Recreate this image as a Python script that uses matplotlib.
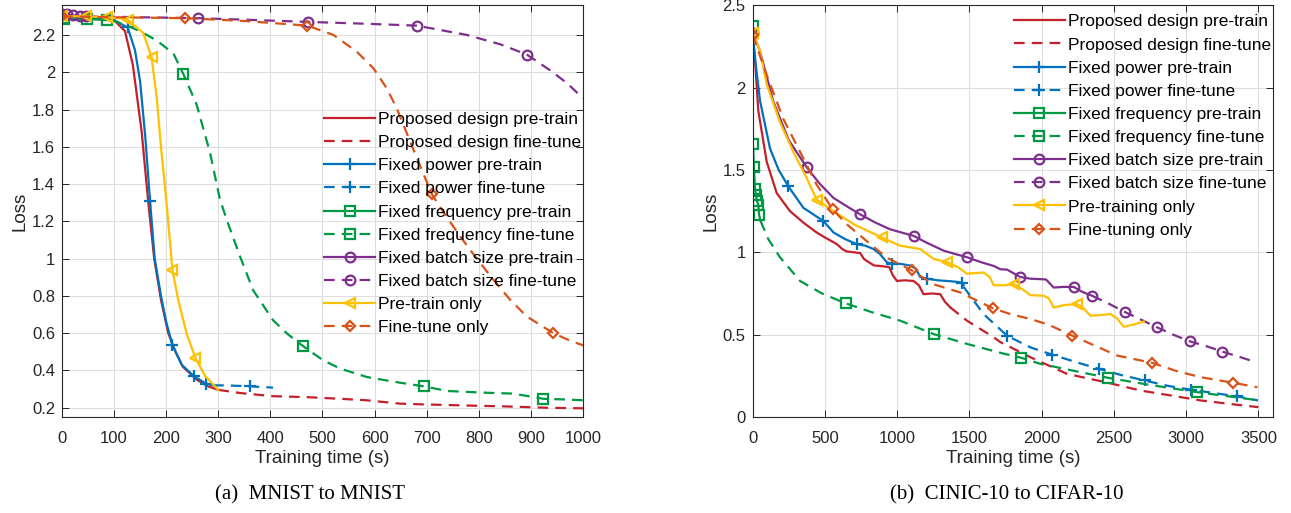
import matplotlib.pyplot as plt
from matplotlib.ticker import FuncFormatter

RED = "#C4202C"
BLUE = "#0072BD"
GREEN = "#009944"
PURPLE = "#7E2F8E"
YELLOW = "#FFC000"
ORANGE = "#D95319"

# ---------------- (a) MNIST to MNIST ----------------
mn_prop_pre_t = [0, 50, 100, 121, 136, 153, 165, 177, 190, 204, 218, 232, 259, 280, 300]
mn_prop_pre_l = [2.30, 2.295, 2.28, 2.22, 2.04, 1.68, 1.32, 1.00, 0.78, 0.60, 0.50, 0.42, 0.35, 0.315, 0.296]
mn_prop_ft_t = [300, 342, 405, 470, 534, 585, 649, 693, 777, 853, 930, 1000]
mn_prop_ft_l = [0.296, 0.279, 0.262, 0.257, 0.248, 0.24, 0.222, 0.218, 0.212, 0.207, 0.20, 0.197]

mn_pow_pre_t = [0, 50, 100, 126, 140, 150, 160, 169, 178, 190, 200, 212, 230, 253, 276, 290]
mn_pow_pre_l = [2.30, 2.295, 2.28, 2.24, 2.12, 1.95, 1.65, 1.31, 1.00, 0.80, 0.66, 0.536, 0.43, 0.37, 0.33, 0.32]
mn_pow_pre_mk = [0, 3, 7, 11, 13, 14]
mn_pow_ft_t = [290, 316, 360, 405]
mn_pow_ft_l = [0.32, 0.32, 0.315, 0.308]
mn_pow_ft_mk = [2]

mn_freq_pre_t = [0, 4, 48, 86, 95]
mn_freq_pre_l = [2.29, 2.285, 2.285, 2.28, 2.28]
mn_freq_pre_mk = [0, 1, 2, 3]
mn_freq_ft_t = [95, 125, 150, 182, 214, 233, 258, 284, 303, 316, 342, 367, 405, 431, 463, 501,
                534, 585, 636, 694, 740, 777, 820, 866, 924, 960, 1000]
mn_freq_ft_l = [2.28, 2.25, 2.22, 2.17, 2.10, 1.99, 1.83, 1.57, 1.32, 1.21, 1.01, 0.83, 0.67, 0.60, 0.53, 0.455,
                0.41, 0.365, 0.34, 0.315, 0.29, 0.285, 0.28, 0.276, 0.248, 0.245, 0.24]
mn_freq_ft_mk = [5, 14, 19, 24]

mn_bat_pre_t = [0, 9, 21, 35, 47]
mn_bat_pre_l = [2.31, 2.31, 2.305, 2.30, 2.30]
mn_bat_pre_mk = [0, 1, 2, 3, 4]
mn_bat_ft_t = [47, 150, 262, 370, 473, 585, 681, 777, 841, 892, 937, 970, 1000]
mn_bat_ft_l = [2.30, 2.295, 2.29, 2.28, 2.27, 2.26, 2.25, 2.20, 2.15, 2.095, 2.01, 1.94, 1.86]
mn_bat_ft_mk = [2, 4, 6, 9]

mn_pre_only_t = [0, 47, 86, 110, 127, 156, 172, 182, 190, 200, 212, 223, 239, 256, 275, 300]
mn_pre_only_l = [2.30, 2.30, 2.295, 2.29, 2.28, 2.21, 2.08, 1.86, 1.60, 1.32, 0.94, 0.78, 0.60, 0.467, 0.37, 0.295]
mn_pre_only_mk = [0, 1, 2, 4, 6, 10, 13]

mn_ft_only_t = [0, 100, 236, 350, 471, 521, 566, 598, 623, 642, 668, 690, 710, 732, 764, 796,
                830, 860, 892, 943, 975, 1000]
mn_ft_only_l = [2.30, 2.295, 2.29, 2.275, 2.25, 2.20, 2.11, 2.02, 1.915, 1.81, 1.63, 1.48, 1.345, 1.25, 1.12, 1.00,
                0.88, 0.78, 0.69, 0.60, 0.56, 0.535]
mn_ft_only_mk = [0, 2, 4, 12, 19]

# ---------------- (b) CINIC-10 to CIFAR-10 ----------------
cf_prop_pre_t = [0, 16, 39, 97, 166, 258, 351, 443, 500, 582, 620, 650, 700, 744, 770, 790, 840, 882,
                 945, 970, 998, 1050, 1113, 1150, 1182, 1240, 1298, 1330, 1368]
cf_prop_pre_l = [2.33, 2.17, 1.86, 1.55, 1.36, 1.25, 1.18, 1.12, 1.09, 1.05, 1.02, 1.005, 1.00, 0.995, 0.96,
                 0.947, 0.92, 0.917, 0.91, 0.86, 0.826, 0.83, 0.826, 0.80, 0.746, 0.75, 0.746, 0.70, 0.665]
cf_prop_ft_t = [1368, 1483, 1668, 1714, 1922, 2176, 2450, 2684, 2900, 3100, 3300, 3500]
cf_prop_ft_l = [0.665, 0.585, 0.484, 0.455, 0.363, 0.262, 0.21, 0.161, 0.13, 0.101, 0.08, 0.06]

cf_pow_pre_t = [0, 20, 51, 120, 180, 247, 351, 420, 489, 560, 640, 720, 780, 836, 880, 928, 963, 1020,
                1090, 1130, 1159, 1206, 1280, 1360, 1420, 1448, 1460]
cf_pow_pre_l = [2.33, 2.15, 1.92, 1.63, 1.50, 1.40, 1.27, 1.23, 1.19, 1.12, 1.08, 1.05, 1.04, 1.02, 0.99,
                0.94, 0.93, 0.93, 0.92, 0.90, 0.85, 0.84, 0.83, 0.825, 0.82, 0.815, 0.80]
cf_pow_pre_mk = [0, 5, 8, 11, 16, 21, 25]
cf_pow_ft_t = [1460, 1598, 1760, 1922, 2072, 2250, 2395, 2550, 2712, 2870, 3031, 3200, 3354, 3496]
cf_pow_ft_l = [0.79, 0.625, 0.494, 0.423, 0.379, 0.33, 0.293, 0.255, 0.222, 0.19, 0.166, 0.145, 0.125, 0.101]
cf_pow_ft_mk = [2, 4, 6, 8, 10, 12]

cf_freq_pre_t = [0, 2, 9, 16, 23, 30, 39, 44, 55]
cf_freq_pre_l = [2.375, 1.657, 1.517, 1.386, 1.345, 1.31, 1.29, 1.229, 1.19]
cf_freq_pre_mk = [0, 1, 2, 3, 4, 5, 6, 7]
cf_freq_ft_t = [55, 108, 189, 328, 480, 644, 830, 1021, 1252, 1483, 1714, 1857, 1991, 2200, 2460, 2750,
                3077, 3300, 3504]
cf_freq_ft_l = [1.19, 1.08, 0.97, 0.826, 0.75, 0.69, 0.635, 0.585, 0.504, 0.444, 0.39, 0.36, 0.323, 0.285,
                0.238, 0.195, 0.151, 0.125, 0.101]
cf_freq_ft_mk = [5, 8, 11, 14, 16]

cf_bat_pre_t = [0, 51, 143, 250, 374, 460, 559, 650, 744, 850, 950, 1030, 1113, 1200, 1321, 1400, 1483,
                1580, 1668, 1714, 1760, 1852, 1920, 1991, 2030, 2083, 2150, 2222, 2280, 2349]
cf_bat_pre_l = [2.33, 2.22, 1.915, 1.68, 1.516, 1.42, 1.33, 1.28, 1.23, 1.18, 1.14, 1.12, 1.10, 1.06, 1.01,
                0.99, 0.97, 0.94, 0.917, 0.897, 0.895, 0.85, 0.84, 0.837, 0.835, 0.786, 0.79, 0.79, 0.76, 0.736]
cf_bat_pre_mk = [0, 4, 8, 12, 16, 21, 27]
cf_bat_ft_t = [2349, 2460, 2573, 2690, 2800, 2910, 3024, 3140, 3250, 3370, 3481]
cf_bat_ft_l = [0.736, 0.69, 0.639, 0.59, 0.544, 0.50, 0.46, 0.43, 0.397, 0.365, 0.333]
cf_bat_ft_mk = [0, 2, 4, 6, 8]

cf_pre_only_t = [0, 51, 97, 189, 281, 374, 443, 559, 700, 894, 1021, 1159, 1252, 1345, 1420, 1483, 1560,
                 1598, 1640, 1668, 1750, 1806, 1860, 1922, 2014, 2050, 2083, 2160, 2245, 2290, 2337, 2420,
                 2476, 2520, 2568, 2650, 2707]
cf_pre_only_l = [2.33, 2.22, 2.02, 1.79, 1.61, 1.45, 1.32, 1.25, 1.17, 1.09, 1.04, 1.02, 0.96, 0.94, 0.91,
                 0.87, 0.875, 0.877, 0.85, 0.80, 0.80, 0.81, 0.78, 0.74, 0.736, 0.72, 0.665, 0.68, 0.686,
                 0.66, 0.615, 0.62, 0.625, 0.60, 0.548, 0.565, 0.58]
cf_pre_only_mk = [0, 6, 9, 13, 21, 28]

cf_ft_only_t = [0, 97, 212, 328, 443, 554, 651, 800, 928, 1101, 1252, 1437, 1660, 1783, 1922, 2050, 2211,
                2350, 2523, 2765, 2930, 3100, 3326, 3493]
cf_ft_only_l = [2.32, 2.076, 1.81, 1.61, 1.41, 1.26, 1.17, 1.06, 0.967, 0.89, 0.806, 0.756, 0.661, 0.625,
                0.595, 0.56, 0.494, 0.44, 0.373, 0.329, 0.28, 0.242, 0.208, 0.181]
cf_ft_only_mk = [0, 5, 9, 12, 16, 19, 22]

mn_labels = ["Proposed design pre-train", "Proposed design fine-tune",
             "Fixed power pre-train", "Fixed power fine-tune",
             "Fixed frequency pre-train", "Fixed frequency fine-tune",
             "Fixed batch size pre-train", "Fixed batch size fine-tune",
             "Pre-train only", "Fine-tune only"]
cf_labels = mn_labels[:8] + ["Pre-training only", "Fine-tuning only"]

plt.rcParams["font.family"] = ["Liberation Sans", "DejaVu Sans"]
DASH = (0, (4.8, 3.2))
TXT = "#262626"


def curve(ax, t, l, color, dashed=False, marker=None, marks=None, label=None):
    ms = 8 if marker == "+" else 7
    if marker == "D":
        ms = 5.5
    ax.plot(t, l, color=color, lw=1.6, linestyle=DASH if dashed else "-",
            marker=marker, markevery=marks, markersize=ms, markerfacecolor="none",
            markeredgewidth=1.6, label=label)


def style(ax, xticks, yticks, xlim, ylim):
    ax.set_xlim(xlim)
    ax.set_ylim(ylim)
    ax.set_xticks(xticks)
    ax.set_yticks(yticks)
    ax.yaxis.set_major_formatter(FuncFormatter(lambda v, p: "%g" % round(v, 2)))
    ax.grid(True, color="#dedede", linewidth=0.8)
    ax.set_axisbelow(True)
    ax.tick_params(direction="in", top=True, right=True, length=5, width=0.7,
                   colors=TXT, labelsize=12)
    ax.tick_params(axis="x", pad=10)
    ax.tick_params(axis="y", pad=5)
    for s in ax.spines.values():
        s.set_color(TXT)
        s.set_linewidth(0.8)
    ax.set_xlabel("Training time (s)", fontsize=13.5, color=TXT, labelpad=3)
    ax.set_ylabel("Loss", fontsize=13.5, color=TXT, labelpad=2)


fig = plt.figure(figsize=(12.91, 5.13), dpi=100)
ax1 = fig.add_axes([0.048, 0.187, 0.4036, 0.803])
ax2 = fig.add_axes([0.583, 0.187, 0.403, 0.803])

# panel (a)
curve(ax1, mn_prop_pre_t, mn_prop_pre_l, RED, label=mn_labels[0])
curve(ax1, mn_prop_ft_t, mn_prop_ft_l, RED, dashed=True, label=mn_labels[1])
curve(ax1, mn_pow_pre_t, mn_pow_pre_l, BLUE, marker="+", marks=mn_pow_pre_mk, label=mn_labels[2])
curve(ax1, mn_pow_ft_t, mn_pow_ft_l, BLUE, dashed=True, marker="+", marks=mn_pow_ft_mk, label=mn_labels[3])
curve(ax1, mn_freq_pre_t, mn_freq_pre_l, GREEN, marker="s", marks=mn_freq_pre_mk, label=mn_labels[4])
curve(ax1, mn_freq_ft_t, mn_freq_ft_l, GREEN, dashed=True, marker="s", marks=mn_freq_ft_mk, label=mn_labels[5])
curve(ax1, mn_bat_pre_t, mn_bat_pre_l, PURPLE, marker="o", marks=mn_bat_pre_mk, label=mn_labels[6])
curve(ax1, mn_bat_ft_t, mn_bat_ft_l, PURPLE, dashed=True, marker="o", marks=mn_bat_ft_mk, label=mn_labels[7])
curve(ax1, mn_pre_only_t, mn_pre_only_l, YELLOW, marker="<", marks=mn_pre_only_mk, label=mn_labels[8])
curve(ax1, mn_ft_only_t, mn_ft_only_l, ORANGE, dashed=True, marker="D", marks=mn_ft_only_mk, label=mn_labels[9])
style(ax1, range(0, 1001, 100), [0.2 * i for i in range(1, 12)], (0, 1000), (0.15, 2.36))

# panel (b)
curve(ax2, cf_prop_pre_t, cf_prop_pre_l, RED, label=cf_labels[0])
curve(ax2, cf_prop_ft_t, cf_prop_ft_l, RED, dashed=True, label=cf_labels[1])
curve(ax2, cf_pow_pre_t, cf_pow_pre_l, BLUE, marker="+", marks=cf_pow_pre_mk, label=cf_labels[2])
curve(ax2, cf_pow_ft_t, cf_pow_ft_l, BLUE, dashed=True, marker="+", marks=cf_pow_ft_mk, label=cf_labels[3])
curve(ax2, cf_freq_pre_t, cf_freq_pre_l, GREEN, marker="s", marks=cf_freq_pre_mk, label=cf_labels[4])
curve(ax2, cf_freq_ft_t, cf_freq_ft_l, GREEN, dashed=True, marker="s", marks=cf_freq_ft_mk, label=cf_labels[5])
curve(ax2, cf_bat_pre_t, cf_bat_pre_l, PURPLE, marker="o", marks=cf_bat_pre_mk, label=cf_labels[6])
curve(ax2, cf_bat_ft_t, cf_bat_ft_l, PURPLE, dashed=True, marker="o", marks=cf_bat_ft_mk, label=cf_labels[7])
curve(ax2, cf_pre_only_t, cf_pre_only_l, YELLOW, marker="<", marks=cf_pre_only_mk, label=cf_labels[8])
curve(ax2, cf_ft_only_t, cf_ft_only_l, ORANGE, dashed=True, marker="D", marks=cf_ft_only_mk, label=cf_labels[9])
style(ax2, range(0, 3501, 500), [0, 0.5, 1, 1.5, 2, 2.5], (0, 3600), (0, 2.5))

for ax, anchor in ((ax1, (1.0, 0.745)), (ax2, (1.0, 0.982))):
    leg = ax.legend(loc="upper right", bbox_to_anchor=anchor, frameon=False, fontsize=12.5,
                    handlelength=2.9, handletextpad=0.2, labelspacing=0.46, borderpad=0.1,
                    borderaxespad=0, numpoints=1)
    for txt in leg.get_texts():
        txt.set_color("black")

fig.text(0.24, 0.036, "(a)  MNIST to MNIST", ha="center", va="center", fontsize=15,
         family="Liberation Serif")
fig.text(0.78, 0.036, "(b)  CINIC-10 to CIFAR-10", ha="center", va="center", fontsize=15,
         family="Liberation Serif")

fig.savefig("out.png", dpi=100)
